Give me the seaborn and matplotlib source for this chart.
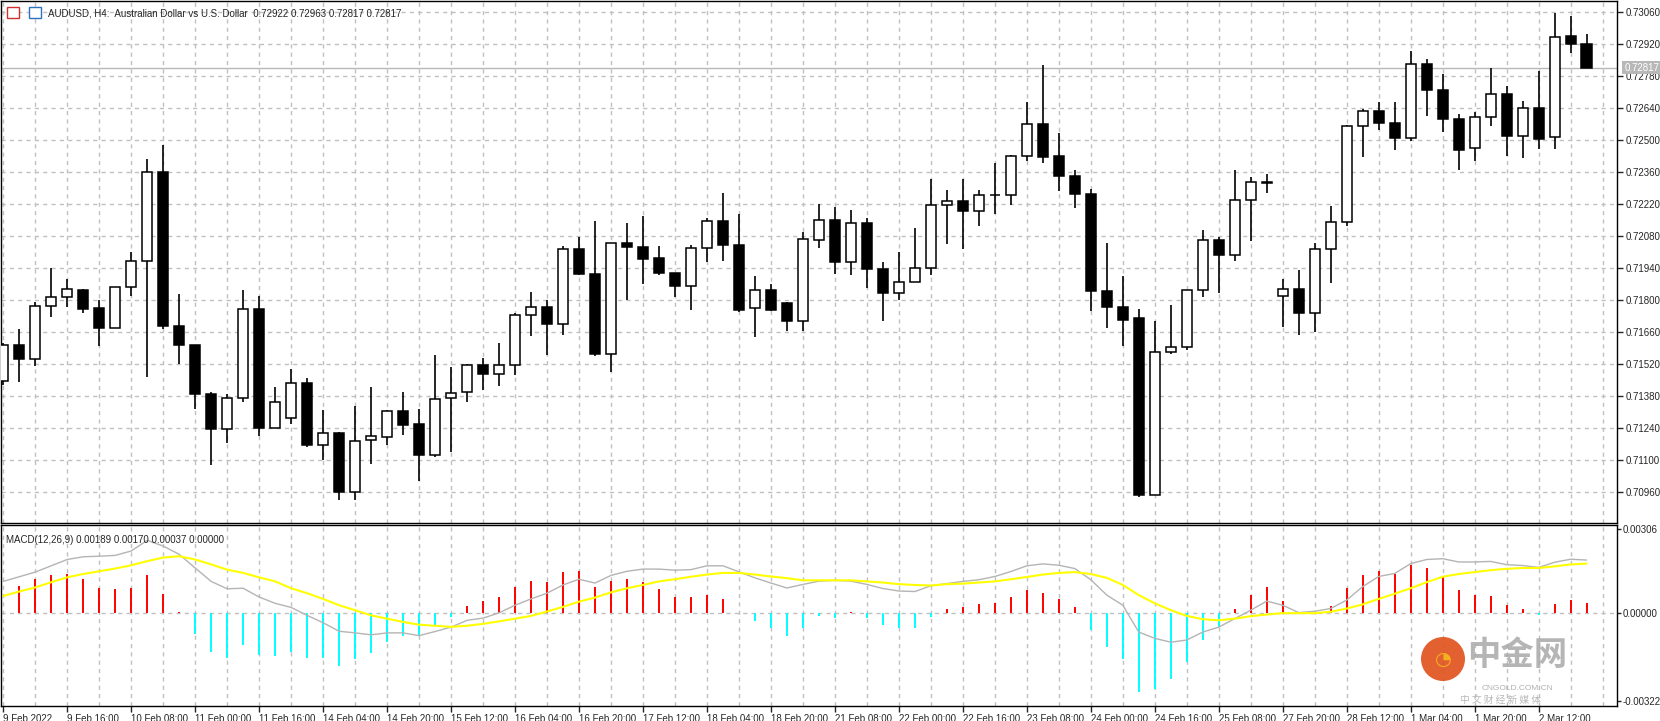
import numpy as np
import pandas as pd
import matplotlib
matplotlib.use("Agg")
import matplotlib.pyplot as plt
import seaborn as sns

opens = [0.71444,0.71602,0.71541,0.71772,0.71812,0.71842,0.71764,0.71676,0.71856,0.71969,
         0.72359,0.71688,0.71604,0.71390,0.71237,0.71370,0.71759,0.71241,0.71282,0.71436,
         0.71167,0.71217,0.70961,0.71185,0.71199,0.71313,0.71257,0.71123,0.71370,0.71396,
         0.71514,0.71475,0.71514,0.71734,0.71768,0.71694,0.72022,0.71912,0.71562,0.72048,
         0.72033,0.71983,0.71919,0.71863,0.72026,0.72144,0.72042,0.71764,0.71842,0.71786,
         0.71709,0.72061,0.72149,0.71968,0.72136,0.71937,0.71832,0.71877,0.71939,0.72214,
         0.72232,0.72191,0.72258,0.72258,0.72429,0.72569,0.72429,0.72344,0.72265,0.71841,
         0.71771,0.71721,0.70948,0.71571,0.71593,0.71842,0.72061,0.71998,0.72236,0.72313,
         0.71816,0.71847,0.71742,0.72022,0.72140,0.72560,0.72626,0.72576,0.72510,0.72831,
         0.72720,0.72593,0.72464,0.72599,0.72700,0.72519,0.72639,0.72512,0.72955,0.72922]
highs = [0.71610,0.71673,0.71793,0.71940,0.71891,0.71847,0.71799,0.71856,0.72009,0.72416,
         0.72478,0.71826,0.71604,0.71398,0.71389,0.71842,0.71819,0.71419,0.71498,0.71459,
         0.71319,0.71222,0.71336,0.71419,0.71320,0.71396,0.71322,0.71559,0.71507,0.71519,
         0.71545,0.71612,0.71743,0.71835,0.71799,0.72035,0.72076,0.72146,0.72048,0.72137,
         0.72168,0.72035,0.71919,0.72041,0.72160,0.72268,0.72176,0.71905,0.71870,0.71790,
         0.72098,0.72219,0.72208,0.72192,0.72159,0.71966,0.72010,0.72114,0.72329,0.72281,
         0.72329,0.72281,0.72398,0.72434,0.72665,0.72828,0.72531,0.72369,0.72286,0.72049,
         0.71904,0.71761,0.71708,0.71778,0.71842,0.72106,0.72074,0.72367,0.72338,0.72351,
         0.71891,0.71931,0.72048,0.72211,0.72566,0.72634,0.72666,0.72666,0.72889,0.72854,
         0.72789,0.72614,0.72623,0.72815,0.72736,0.72671,0.72802,0.73057,0.73044,0.72963]
lows = [0.71430,0.71443,0.71513,0.71727,0.71771,0.71744,0.71600,0.71676,0.71819,0.71464,
        0.71673,0.71521,0.71324,0.71079,0.71176,0.71355,0.71206,0.71241,0.71259,0.71158,
        0.71101,0.70925,0.70925,0.71084,0.71166,0.71211,0.71009,0.71112,0.71135,0.71355,
        0.71408,0.71425,0.71471,0.71644,0.71561,0.71648,0.71910,0.71556,0.71486,0.71800,
        0.71870,0.71911,0.71813,0.71758,0.71968,0.71972,0.71749,0.71639,0.71753,0.71666,
        0.71666,0.72029,0.71915,0.71911,0.71854,0.71709,0.71800,0.71877,0.71911,0.72046,
        0.72023,0.72125,0.72178,0.72214,0.72409,0.72401,0.72277,0.72204,0.71753,0.71679,
        0.71600,0.70939,0.70948,0.71562,0.71581,0.71814,0.71832,0.71972,0.72059,0.72269,
        0.71683,0.71647,0.71660,0.71876,0.72125,0.72427,0.72545,0.72458,0.72497,0.72606,
        0.72535,0.72369,0.72409,0.72563,0.72431,0.72423,0.72462,0.72462,0.72882,0.72817]
closes = [0.71602,0.71541,0.71772,0.71812,0.71847,0.71762,0.71679,0.71856,0.71969,0.72359,
          0.71688,0.71604,0.71390,0.71237,0.71370,0.71759,0.71241,0.71352,0.71436,0.71167,
          0.71217,0.70961,0.71182,0.71204,0.71313,0.71254,0.71123,0.71366,0.71392,0.71514,
          0.71475,0.71514,0.71734,0.71768,0.71694,0.72022,0.71915,0.71565,0.72048,0.72033,
          0.71981,0.71919,0.71863,0.72026,0.72144,0.72042,0.71758,0.71842,0.71758,0.71709,
          0.72066,0.72149,0.71968,0.72136,0.71937,0.71832,0.71877,0.71939,0.72214,0.72232,
          0.72191,0.72258,0.72258,0.72429,0.72569,0.72427,0.72344,0.72265,0.71841,0.71771,
          0.71714,0.70948,0.71571,0.71593,0.71842,0.72061,0.71998,0.72236,0.72315,0.72313,
          0.71847,0.71744,0.72022,0.72140,0.72560,0.72626,0.72576,0.72510,0.72831,0.72720,
          0.72593,0.72458,0.72599,0.72700,0.72519,0.72639,0.72506,0.72949,0.72919,0.72817]

# MACD panel (in units of 0.001)
macd_hist = [0.0,1.00,1.25,1.40,1.43,1.25,0.91,0.88,0.91,1.40,
             0.69,0.02,-0.77,-1.41,-1.65,-1.16,-1.53,-1.56,-1.43,-1.64,
             -1.65,-1.94,-1.70,-1.46,-1.07,-0.86,-0.85,-0.46,-0.15,0.25,
             0.43,0.58,0.95,1.17,1.14,1.51,1.52,0.95,1.17,1.25,
             1.12,0.88,0.58,0.58,0.65,0.51,0.0,-0.30,-0.56,-0.83,
             -0.56,-0.11,-0.19,0.02,-0.19,-0.46,-0.56,-0.56,-0.15,0.14,
             0.21,0.33,0.37,0.58,0.84,0.73,0.51,0.21,-0.64,-1.26,
             -1.67,-2.89,-2.77,-2.40,-1.79,-0.98,-0.52,0.16,0.65,0.95,
             0.43,0.0,0.01,0.25,0.91,1.40,1.54,1.42,1.74,1.65,
             1.32,0.83,0.65,0.62,0.28,0.16,-0.06,0.32,0.47,0.37]
macd_gray = [1.15,1.32,1.49,1.72,1.95,2.05,2.07,2.10,2.26,2.65,
             2.44,2.14,1.64,1.15,0.88,0.90,0.58,0.35,0.20,-0.09,
             -0.36,-0.67,-0.73,-0.80,-0.73,-0.73,-0.83,-0.68,-0.52,-0.27,
             -0.19,0.0,0.28,0.51,0.72,1.02,1.23,1.09,1.37,1.52,
             1.60,1.60,1.56,1.58,1.72,1.72,1.50,1.28,1.09,0.91,
             1.04,1.16,1.19,1.16,1.04,0.89,0.80,0.78,0.99,1.07,
             1.15,1.21,1.33,1.51,1.72,1.79,1.74,1.62,1.21,0.65,
             0.28,-0.70,-0.93,-1.07,-0.99,-0.70,-0.52,-0.21,0.10,0.43,
             0.28,0.01,0.06,0.16,0.47,0.96,1.33,1.44,1.80,1.95,
             1.98,1.86,1.86,1.88,1.76,1.73,1.66,1.85,1.96,1.93]
macd_yellow = [0.62,0.78,0.93,1.12,1.30,1.42,1.52,1.62,1.74,1.89,
               2.02,2.07,1.95,1.77,1.58,1.46,1.30,1.15,0.90,0.72,
               0.51,0.28,0.10,-0.09,-0.21,-0.33,-0.43,-0.47,-0.51,-0.47,
               -0.40,-0.31,-0.21,-0.11,0.05,0.22,0.41,0.56,0.75,0.90,
               1.02,1.15,1.23,1.32,1.40,1.46,1.46,1.40,1.33,1.27,
               1.19,1.19,1.19,1.19,1.15,1.11,1.05,1.02,1.00,1.05,
               1.07,1.11,1.15,1.23,1.31,1.40,1.46,1.49,1.42,1.28,
               1.02,0.65,0.35,0.10,-0.11,-0.23,-0.27,-0.21,-0.12,-0.06,
               -0.01,-0.01,-0.01,0.04,0.16,0.31,0.51,0.70,0.90,1.12,
               1.32,1.42,1.49,1.56,1.61,1.64,1.64,1.70,1.77,1.80]

tick_idx = list(range(0, 100, 4))
tick_labels = ["9 Feb 2022","9 Feb 16:00","10 Feb 08:00","11 Feb 00:00","11 Feb 16:00",
               "14 Feb 04:00","14 Feb 20:00","15 Feb 12:00","16 Feb 04:00","16 Feb 20:00",
               "17 Feb 12:00","18 Feb 04:00","18 Feb 20:00","21 Feb 08:00","22 Feb 00:00",
               "22 Feb 16:00","23 Feb 08:00","24 Feb 00:00","24 Feb 16:00","25 Feb 08:00",
               "27 Feb 20:00","28 Feb 12:00","1 Mar 04:00","1 Mar 20:00","2 Mar 12:00"]
price_ticks = [0.70960,0.71100,0.71240,0.71380,0.71520,0.71660,0.71800,0.71940,
               0.72080,0.72220,0.72360,0.72500,0.72640,0.72780,0.72920,0.73060]
last_price = 0.72817

sns.set_style("white")
plt.rcParams['font.family'] = ['Liberation Sans', 'DejaVu Sans', 'Noto Sans CJK SC']
FS = 7

W, H = 1660, 721
fig = plt.figure(figsize=(W/100, H/100), dpi=100)
fig.patch.set_facecolor("white")
axL, axR = 1/W, 1617/W
ax = fig.add_axes([axL, 1-523/H, axR-axL, 522/H])
ax2 = fig.add_axes([axL, 1-706/H, axR-axL, 181/H])

df = pd.DataFrame({"i": np.arange(len(opens)), "o": opens, "h": highs, "l": lows, "c": closes})
xlim = (-0.14, 100.9)
grid_kw = dict(color="#c0c0c0", lw=1, ls=(0, (3, 3)), zorder=0)

for a in (ax, ax2):
    for k in range(0, 101, 2):
        a.axvline(k, **grid_kw)
for p in price_ticks:
    ax.axhline(p, **grid_kw)

ax.axhline(last_price, color="#b8b8b8", lw=1, zorder=1)
ax.vlines(df["i"], df["l"], df["h"], color="black", lw=1.2, zorder=2)
up = df["c"] >= df["o"]
bot = np.minimum(df["o"], df["c"])
hgt = np.maximum(np.abs(df["c"] - df["o"]), 0.000012)
ax.bar(df["i"][up], hgt[up], bottom=bot[up], width=0.64, color="white", edgecolor="black", lw=1.1, zorder=3)
ax.bar(df["i"][~up], hgt[~up], bottom=bot[~up], width=0.64, color="black", edgecolor="black", lw=1.1, zorder=3)
ax.set_xlim(*xlim)
ax.set_ylim(0.70824, 0.73108)
ax.yaxis.tick_right()
ax.set_yticks(price_ticks)
ax.set_yticklabels([f"{p:.5f}" for p in price_ticks], fontsize=FS)
ax.tick_params(axis="y", length=4, width=1, pad=2, direction="out", right=True)
ax.set_xticks([])
ax.text(1.0045, last_price, f"{last_price:.5f}", transform=ax.get_yaxis_transform(),
        fontsize=FS, color="white", va="center", ha="left",
        bbox=dict(boxstyle="square,pad=0.2", fc="#b8b8b8", ec="none"), zorder=5, clip_on=False)
ax.text(0.029, 0.977, "AUDUSD, H4:  Australian Dollar vs U.S. Dollar  0.72922 0.72963 0.72817 0.72817",
        transform=ax.transAxes, fontsize=FS, va="center", ha="left")
ax.add_patch(plt.Rectangle((0.0035, 0.968), 0.0075, 0.02, transform=ax.transAxes, fc="white", ec="#d03030", lw=1))
ax.add_patch(plt.Rectangle((0.0175, 0.968), 0.0075, 0.02, transform=ax.transAxes, fc="white", ec="#3070c0", lw=1))

# MACD panel
ax2.axhline(0, **grid_kw)
hist = pd.DataFrame({"i": np.arange(len(macd_hist)), "v": np.array(macd_hist) / 1000})
pos = hist["v"] >= 0
ax2.vlines(hist["i"][pos], 0, hist["v"][pos], color="#ff0000", lw=1.4, zorder=2)
ax2.vlines(hist["i"][~pos], 0, hist["v"][~pos], color="#00ffff", lw=1.4, zorder=2)
lines = pd.DataFrame({"i": np.arange(100), "gray": np.array(macd_gray) / 1000, "yellow": np.array(macd_yellow) / 1000})
sns.lineplot(data=lines, x="i", y="gray", ax=ax2, color="#b4b4b4", lw=1, zorder=3)
sns.lineplot(data=lines, x="i", y="yellow", ax=ax2, color="#ffff00", lw=1.5, zorder=4)
ax2.set_xlim(*xlim)
ax2.set_ylim(-0.0034, 0.00321)
ax2.set_xlabel(""); ax2.set_ylabel("")
ax2.yaxis.tick_right()
ax2.set_yticks([0.00306, 0.0, -0.00322])
ax2.set_yticklabels(["0.00306", "0.00000", "-0.00322"], fontsize=FS)
ax2.tick_params(axis="y", length=3, width=1, pad=1, right=True)
ax2.set_xticks(tick_idx)
ax2.set_xticklabels(tick_labels, fontsize=FS, ha="left")
ax2.tick_params(axis="x", length=4, width=1, pad=2, bottom=True)
ax2.text(0.003, 0.915, "MACD(12,26,9) 0.00189 0.00170 0.00037 0.00000", transform=ax2.transAxes,
         fontsize=FS, va="center", ha="left")

for a in (ax, ax2):
    for s in a.spines.values():
        s.set_color("black"); s.set_linewidth(1); s.set_visible(True)

# watermark
fig.patches.append(matplotlib.patches.Ellipse((1443/W, 1-659/H), 44/W, 44/H, transform=fig.transFigure,
                                              fc="#e0501a", ec="none", alpha=0.9, zorder=10))
fig.text(1443/W, 1-659/H, "◔", fontsize=14, color="#f5b020", ha="center", va="center", zorder=11,
         family=['DejaVu Sans'])
fig.text(1517/W, 1-655/H, "中金网", fontsize=24, color="#a8a8a8", ha="center", va="center",
         family=['Noto Sans CJK SC', 'DejaVu Sans'], weight="bold", alpha=0.85)
fig.text(1517/W, 1-688/H, "CNGOLD.COM.CN", fontsize=6, color="#b0b0b0", ha="center", va="center")
fig.text(1500/W, 1-700/H, "中 文 财 经 新 媒 体", fontsize=7, color="#b8b8b8", ha="center", va="center",
         family=['Noto Sans CJK SC', 'DejaVu Sans'], zorder=0)

fig.savefig("out.png", dpi=100, facecolor="white")
